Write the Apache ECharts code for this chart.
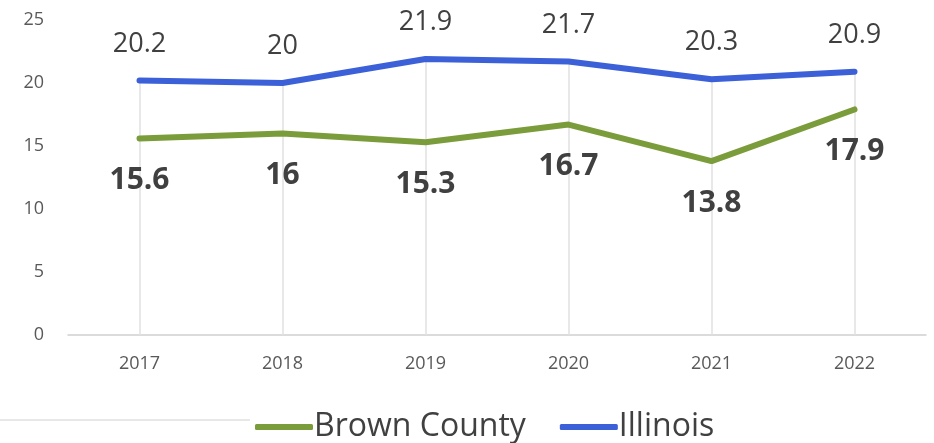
<!DOCTYPE html>
<html><head><meta charset="utf-8">
<script src="https://cdn.jsdelivr.net/npm/echarts@6/dist/echarts.min.js"></script>
<style>html,body{margin:0;padding:0;background:#fff}#c{width:934px;height:443px}</style>
</head><body><div id="c"></div>
<script>
var categories = ['2017','2018','2019','2020','2021','2022'];
var brownCounty = [15.6, 16, 15.3, 16.7, 13.8, 17.9];
var illinois = [20.2, 20, 21.9, 21.7, 20.3, 20.9];
var yTicks = [0, 5, 10, 15, 20, 25];

var FONT = '"Open Sans", Lato, sans-serif';
var chart = echarts.init(document.getElementById('c'));
var dropLines = categories.map(function(c, i){
  return [{coord:[c, illinois[i]]}, {coord:[c, 0]}];
});
chart.setOption({
  animation: false,
  grid: {left: 68, right: 8, top: 20, bottom: 108},
  legend: {
    bottom: -5, left: 250,
    itemWidth: 58, itemHeight: 6, itemGap: 34,
    textStyle: {fontFamily: FONT, fontSize: 32, color: '#404040', padding: [0,0,0,-4]},
    data: [{name:'Brown County', icon:'roundRect'}, {name:'Illinois', icon:'roundRect'}]
  },
  graphic: [{type:'line', shape:{x1:0, y1:420, x2:250, y2:420}, style:{stroke:'#d0d0d0', lineWidth:1}}],
  xAxis: {
    type: 'category', data: categories, boundaryGap: true,
    axisLine: {lineStyle: {color: '#d0d0d0', width: 1.5}},
    axisTick: {show: false},
    axisLabel: {fontFamily: FONT, fontSize: 18, color: '#595959', margin: 20},
    splitLine: {show: false}
  },
  yAxis: {
    type: 'value', min: 0, max: 25, interval: 5,
    axisLine: {show: false}, axisTick: {show: false},
    axisLabel: {fontFamily: FONT, fontSize: 18, color: '#595959', margin: 24,
      formatter: function(v){ return yTicks.indexOf(v) >= 0 ? String(v) : ''; }},
    splitLine: {show: false}
  },
  series: [
    {
      name: 'Brown County', type: 'line', data: brownCounty, symbol: 'circle', symbolSize: 0, showSymbol: true, z: 3,
      lineStyle: {color: '#7b9c3a', width: 6, cap: 'round', join: 'round'},
      itemStyle: {color: '#7b9c3a'},
      label: {show: true, position: 'bottom', distance: 27, fontFamily: FONT, fontSize: 30,
        fontWeight: 'bold', color: '#404040'}
    },
    {
      name: 'Illinois', type: 'line', data: illinois, symbol: 'circle', symbolSize: 0, showSymbol: true, z: 3,
      lineStyle: {color: '#3b60d8', width: 6, cap: 'round', join: 'round'},
      itemStyle: {color: '#3b60d8'},
      label: {show: true, position: 'top', distance: 23, fontFamily: FONT, fontSize: 27,
        color: '#404040'},
      markLine: {
        silent: true, symbol: ['none','none'], label: {show: false}, z: 1,
        lineStyle: {color: '#e0e0e0', width: 1.5, type: 'solid'},
        data: dropLines
      }
    }
  ]
});
</script></body></html>
